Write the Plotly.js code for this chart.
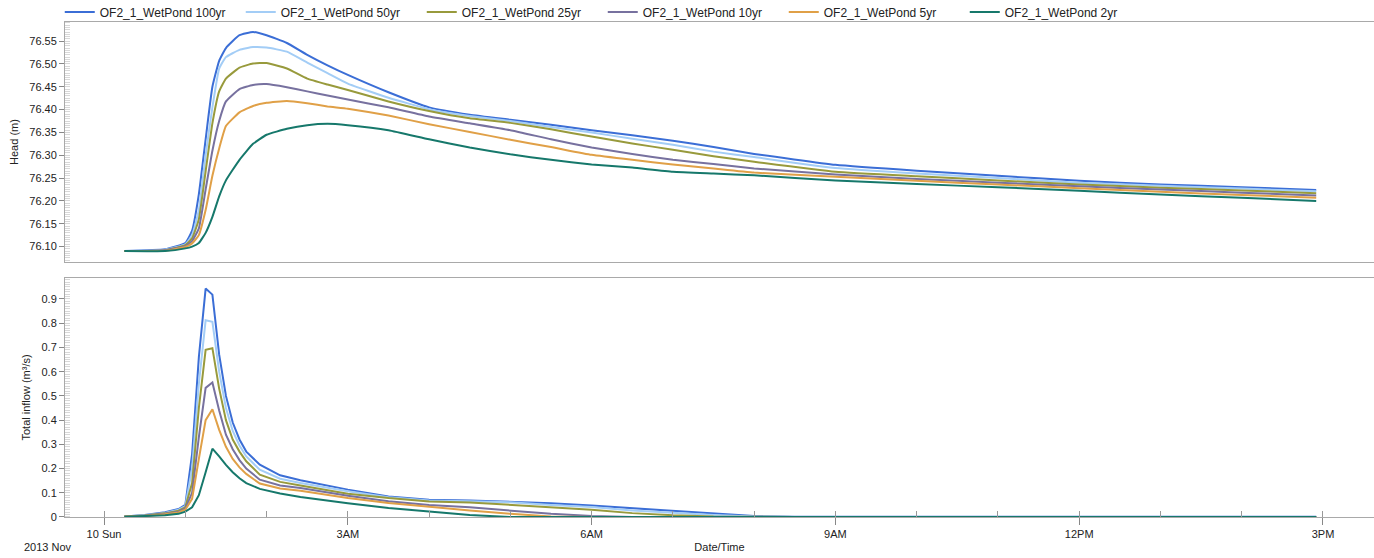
<!DOCTYPE html>
<html>
<head>
<meta charset="utf-8">
<script src="https://cdn.plot.ly/plotly-3.0.1.min.js"></script>
<style>
html,body{margin:0;padding:0;background:#fff;}
#chart{width:1374px;height:558px;}
</style>
</head>
<body>
<div id="chart"></div>
<script>
// ---------- DATA ----------
const seriesNames = ["OF2_1_WetPond 100yr","OF2_1_WetPond 50yr","OF2_1_WetPond 25yr","OF2_1_WetPond 10yr","OF2_1_WetPond 5yr","OF2_1_WetPond 2yr"];
const seriesColors = ["#3b6ed6","#a3cdf6","#989a3c","#77719f","#e0a047","#16786b"];

const headTimes = ["00:15","00:45","01:00","01:05","01:10","01:15","01:20","01:25","01:30","01:40","01:50","02:00","02:15","02:30","02:45","03:00","03:30","04:00","04:30","05:00","05:30","06:00","06:30","07:00","07:30","08:00","09:00","10:00","11:00","12:00","13:00","14:00","14:55"];
const head100 = [76.090,76.094,76.108,76.135,76.215,76.335,76.450,76.507,76.535,76.563,76.570,76.563,76.546,76.520,76.497,76.476,76.438,76.405,76.389,76.378,76.367,76.355,76.344,76.332,76.318,76.303,76.279,76.266,76.255,76.244,76.236,76.230,76.224];
const head50  = [76.090,76.093,76.105,76.125,76.180,76.300,76.405,76.490,76.515,76.531,76.537,76.536,76.527,76.503,76.480,76.457,76.426,76.401,76.386,76.375,76.362,76.350,76.336,76.323,76.308,76.296,76.272,76.260,76.250,76.240,76.233,76.227,76.221];
const head25  = [76.090,76.092,76.103,76.118,76.160,76.265,76.370,76.440,76.468,76.492,76.501,76.502,76.490,76.468,76.455,76.443,76.418,76.397,76.381,76.371,76.357,76.341,76.326,76.312,76.298,76.286,76.264,76.254,76.245,76.236,76.229,76.223,76.217];
const head10  = [76.090,76.092,76.101,76.112,76.140,76.225,76.310,76.375,76.418,76.445,76.454,76.456,76.449,76.440,76.431,76.422,76.405,76.385,76.370,76.355,76.335,76.317,76.303,76.290,76.281,76.271,76.258,76.248,76.240,76.232,76.225,76.218,76.212];
const head5   = [76.090,76.091,76.099,76.107,76.125,76.180,76.255,76.315,76.364,76.394,76.408,76.415,76.419,76.414,76.407,76.402,76.387,76.368,76.351,76.334,76.318,76.301,76.290,76.280,76.271,76.262,76.253,76.244,76.236,76.228,76.220,76.213,76.207];
const head2   = [76.090,76.090,76.096,76.100,76.108,76.130,76.165,76.210,76.245,76.290,76.325,76.345,76.358,76.366,76.369,76.366,76.355,76.335,76.317,76.302,76.290,76.280,76.273,76.264,76.260,76.256,76.245,76.237,76.230,76.222,76.214,76.207,76.200];

const flowTimes = ["00:15","00:30","00:45","00:55","01:00","01:05","01:10","01:15","01:20","01:25","01:30","01:35","01:40","01:45","01:55","02:10","02:25","03:00","03:30","04:00","04:30","05:00","05:30","06:00","06:30","07:00","07:30","08:00","08:30","14:55"];
const flow100 = [0.002,0.008,0.020,0.033,0.050,0.260,0.660,0.943,0.918,0.670,0.500,0.390,0.320,0.270,0.216,0.172,0.152,0.113,0.085,0.071,0.068,0.064,0.057,0.047,0.036,0.023,0.013,0.004,0.001,0.001];
const flow50  = [0.002,0.007,0.017,0.030,0.045,0.200,0.550,0.812,0.806,0.600,0.450,0.355,0.295,0.250,0.195,0.158,0.140,0.106,0.082,0.068,0.065,0.061,0.050,0.041,0.027,0.016,0.008,0.002,0.000,0.000];
const flow25  = [0.002,0.006,0.015,0.026,0.040,0.140,0.450,0.690,0.697,0.530,0.400,0.320,0.270,0.230,0.175,0.145,0.130,0.096,0.078,0.064,0.060,0.050,0.041,0.030,0.016,0.007,0.002,0.000,0.000,0.000];
const flow10  = [0.001,0.005,0.013,0.022,0.035,0.100,0.330,0.533,0.555,0.440,0.340,0.280,0.235,0.200,0.154,0.130,0.120,0.088,0.065,0.050,0.040,0.027,0.013,0.004,0.000,0.000,0.000,0.000,0.000,0.000];
const flow5   = [0.001,0.004,0.011,0.019,0.030,0.075,0.240,0.400,0.445,0.360,0.290,0.240,0.205,0.178,0.138,0.118,0.108,0.078,0.058,0.041,0.027,0.013,0.002,0.000,0.000,0.000,0.000,0.000,0.000,0.000];
const flow2   = [0.001,0.003,0.007,0.013,0.022,0.040,0.090,0.185,0.282,0.250,0.215,0.185,0.160,0.140,0.116,0.097,0.083,0.057,0.037,0.023,0.008,0.000,0.000,0.000,0.000,0.000,0.000,0.000,0.000,0.000];

const tickTimes = ["00:00","03:00","06:00","09:00","12:00","15:00"];
const tickLabels = ["10 Sun","3AM","6AM","9AM","12PM","3PM"];
const dateStr = "2013-11-10 ";
const xRange = ["2013-11-09 23:31:10","2013-11-10 15:37:40"];

// ---------- BUILD ----------
const headSeries = [head100,head50,head25,head10,head5,head2];
const flowSeries = [flow100,flow50,flow25,flow10,flow5,flow2];
const hx = headTimes.map(t => dateStr + t);
const fx = flowTimes.map(t => dateStr + t);
const traces = [];
seriesNames.forEach((n,i)=>{
  traces.push({x:hx,y:headSeries[i],type:'scatter',mode:'lines',name:n,legendgroup:n,
    line:{color:seriesColors[i],width:2,shape:'spline',smoothing:0.4},xaxis:'x',yaxis:'y'});
});
seriesNames.forEach((n,i)=>{
  traces.push({x:fx,y:flowSeries[i],type:'scatter',mode:'lines',name:n,legendgroup:n,showlegend:false,
    line:{color:seriesColors[i],width:2},xaxis:'x2',yaxis:'y2'});
});

const axisColor = '#a9a9a9';
const tickFont = {family:'"Liberation Sans", Arial, sans-serif', size:11, color:'#222'};
const layout = {
  width:1374, height:558,
  margin:{l:65,r:0,t:22,b:41,autoexpand:false},
  paper_bgcolor:'#fff', plot_bgcolor:'#fff',
  font:tickFont,
  showlegend:true,
  legend:{orientation:'h', x:-0.004, xanchor:'left', y:1.0202, yanchor:'middle',
    font:{family:'"Liberation Sans", Arial, sans-serif', size:12, color:'#222'},
    bgcolor:'rgba(0,0,0,0)', itemwidth:30, tracegroupgap:0,
    entrywidth:136, entrywidthmode:'pixels'},
  xaxis:{type:'date', range:xRange, domain:[0,1], anchor:'y', matches:'x2',
    showticklabels:false, ticks:'', showgrid:false, zeroline:false,
    showline:true, linecolor:axisColor, linewidth:1, mirror:true},
  yaxis:{domain:[0.515,1], anchor:'x', range:[76.066,76.592],
    tickmode:'linear', tick0:76.10, dtick:0.05, tickformat:'.2f',
    ticks:'outside', ticklen:5, tickcolor:'#888', showgrid:false, zeroline:false,
    showline:true, linecolor:axisColor, linewidth:1,
    minor:{dtick:0.005, ticks:'inside', ticklen:5, tickcolor:'#d8d8d8'},
    title:{text:'Head (m)', font:{size:11,color:'#222'}, standoff:8}},
  xaxis2:{type:'date', range:xRange, domain:[0,1], anchor:'y2',
    tickmode:'array', tickvals:tickTimes.map(t=>dateStr+t), ticktext:tickLabels,
    ticks:'outside', ticklen:7, tickcolor:'#888', showgrid:false, zeroline:false,
    showline:true, linecolor:axisColor, linewidth:1, mirror:true,
    minor:{tick0:dateStr+'00:00', dtick:3600000, ticks:'inside', ticklen:6, tickcolor:'#999'},
    title:{text:'Date/Time', font:{size:11,color:'#222'}, standoff:4}},
  yaxis2:{domain:[0,0.483], anchor:'x2', range:[0,0.987],
    tickmode:'linear', tick0:0, dtick:0.1,
    ticks:'outside', ticklen:5, tickcolor:'#888', showgrid:false, zeroline:false,
    showline:true, linecolor:axisColor, linewidth:1,
    minor:{dtick:0.01, ticks:'inside', ticklen:5, tickcolor:'#d8d8d8'},
    title:{text:'Total inflow (m³/s)', font:{size:11,color:'#222'}, standoff:8}},
  annotations:[{text:'2013 Nov', xref:'paper', yref:'paper', x:-0.0328, xanchor:'left',
    y:-0.0606, yanchor:'middle', showarrow:false, font:{size:11,color:'#222'}}]
};
Plotly.newPlot('chart', traces, layout, {displayModeBar:false, staticPlot:true});
</script>
</body>
</html>
